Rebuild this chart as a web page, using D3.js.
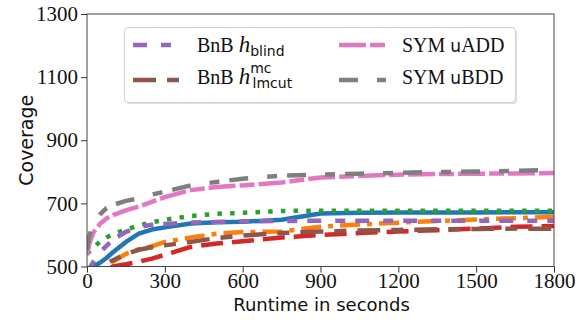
<!DOCTYPE html>
<html><head><meta charset="utf-8">
<script src="https://cdn.jsdelivr.net/npm/d3@7"></script>
<style>body{margin:0;background:#fff}</style>
</head><body><svg id="c" width="582" height="320"></svg>
<script>
// ---- data ----
const times   = [0, 10, 25, 50, 75, 100, 150, 200, 250, 300, 400, 500, 600, 750, 900, 1050, 1200, 1350, 1500, 1650, 1800];
const blueV   = [460, 478, 500, 512, 527, 545, 578, 604, 617, 624, 636, 640, 642, 648, 668, 670, 671, 671, 671, 672, 672];
const orangeV = [420, 440, 465, 480, 500, 515, 540, 555, 564, 578, 592, 604, 609, 611, 626, 633, 639, 644, 649, 653, 658];
const greenV  = [540, 548, 560, 579, 592, 602, 617, 630, 640, 648, 660, 667, 670, 676, 677, 677, 677, 677, 677, 677, 677];
const redV    = [440, 455, 470, 480, 490, 500, 507, 515, 525, 537, 562, 573, 580, 592, 600, 606, 611, 615, 620, 626, 628];
const purpleV = [480, 495, 515, 545, 565, 585, 610, 625, 632, 635, 639, 641, 643, 644, 645, 645, 645, 645, 645, 645, 645];
const brownV  = [440, 455, 470, 500, 510, 520, 540, 553, 561, 567, 578, 590, 598, 606, 611, 614, 616, 618, 619, 620, 620];
const pinkV   = [536, 575, 608, 635, 652, 663, 678, 690, 705, 720, 742, 752, 757, 766, 782, 787, 791, 793, 794, 795, 796];
const grayV   = [552, 600, 635, 665, 685, 695, 708, 716, 728, 737, 757, 768, 778, 788, 791, 794, 797, 799, 801, 803, 806];
const xTicks  = [0, 300, 600, 900, 1200, 1500, 1800];
const yTicks  = [500, 700, 900, 1100, 1300];
const xDomain = [0, 1800];
const yDomain = [500, 1300];

// ---- styles ----
const series = [
  {v: blueV,   color: "#1f77b4", dash: null},
  {v: orangeV, color: "#ff7f0e", dash: "20,7,5,7"},
  {v: greenV,  color: "#2ca02c", dash: "4.5,8.2"},
  {v: redV,    color: "#d62728", dash: "22,9"},
  {v: purpleV, color: "#9467bd", dash: "14,14,10,10"},
  {v: brownV,  color: "#8c564b", dash: "23,11,12,11"},
  {v: pinkV,   color: "#e377c2", dash: "27,4,15,4"},
  {v: grayV,   color: "#7f7f7f", dash: "19,19,10,10"}
];

const svg = d3.select("#c");
const L = 87, R = 554, T = 14, B = 266.5;
const x = d3.scaleLinear().domain(xDomain).range([L, R]);
const y = d3.scaleLinear().domain(yDomain).range([B, T]);

svg.append("defs").append("clipPath").attr("id","clip")
  .append("rect").attr("x", L).attr("y", T).attr("width", R-L).attr("height", B-T);

const serif = "'Liberation Serif', 'DejaVu Serif', serif";
const sans = "'DejaVu Sans', sans-serif";

// lines
const line = d3.line().x((d,i)=>x(times[i])).y(d=>y(d));
const g = svg.append("g").attr("clip-path","url(#clip)");
series.forEach(s => {
  g.append("path").attr("d", line(s.v))
    .attr("fill","none").attr("stroke", s.color).attr("stroke-width", 4.5)
    .attr("stroke-dasharray", s.dash).attr("stroke-linejoin","round");
});

// axes
const xa = svg.append("g").attr("transform",`translate(0,${B})`)
  .call(d3.axisBottom(x).tickValues(xTicks).tickSize(6).tickSizeOuter(0).tickFormat(d3.format("d")));
const ya = svg.append("g").attr("transform",`translate(${L},0)`)
  .call(d3.axisLeft(y).tickValues(yTicks).tickSize(6).tickSizeOuter(0).tickFormat(d3.format("d")));
[xa, ya].forEach(a => {
  a.select(".domain").remove();
  a.selectAll("line").attr("stroke","#333");
  a.selectAll("text").attr("font-family", serif).attr("font-size", 21).attr("fill","#111");
});
xa.selectAll("text").attr("y", 21.5).attr("dy", null);
ya.selectAll("text").attr("x", -9);

// frame
svg.append("rect").attr("x", L).attr("y", T).attr("width", R-L).attr("height", B-T)
  .attr("fill","none").attr("stroke","#444").attr("stroke-width",1);

// axis labels
svg.append("text").attr("x", (L+R)/2 + 1).attr("y", 311).attr("text-anchor","middle")
  .attr("font-family", sans).attr("font-size", 18).attr("fill","#111").text("Runtime in seconds");
svg.append("text").attr("transform",`translate(33,${(T+B)/2}) rotate(-90)`).attr("text-anchor","middle")
  .attr("font-family", sans).attr("font-size", 19).attr("fill","#111").text("Coverage");

// legend
const lg = svg.append("g");
lg.append("rect").attr("x", 126).attr("y", 29).attr("width", 391).attr("height", 75).attr("rx", 4)
  .attr("fill", "#000").attr("opacity", 0.12);
lg.append("rect").attr("x", 124.5).attr("y", 27.5).attr("width", 391).attr("height", 75).attr("rx", 4)
  .attr("fill", "#fff").attr("stroke", "#d0d0d0").attr("stroke-width", 1);

const items = [
  {s: series[4], hx: 133, hy: 45, tx: 197, ty: 52, kind: "blind"},
  {s: series[5], hx: 133, hy: 80, tx: 197, ty: 84, kind: "lmcut"},
  {s: series[6], hx: 339, hy: 45, tx: 402, ty: 52, kind: "uADD"},
  {s: series[7], hx: 339, hy: 80, tx: 402, ty: 84, kind: "uBDD"}
];
items.forEach(it => {
  lg.append("line").attr("x1", it.hx).attr("x2", it.hx+47).attr("y1", it.hy).attr("y2", it.hy)
    .attr("stroke", it.s.color).attr("stroke-width", 4.5).attr("stroke-dasharray", it.s.dash);
  const t = lg.append("text").attr("x", it.tx).attr("y", it.ty).attr("fill","#111")
    .attr("font-family", serif).attr("font-size", 20);
  if (it.kind === "blind" || it.kind === "lmcut") {
    t.append("tspan").text("BnB ");
    t.append("tspan").attr("font-style","italic").attr("font-size", 23).text("h");
    if (it.kind === "blind") {
      t.append("tspan").attr("font-family", sans).attr("font-size", 14).attr("dy", 4).text("blind");
    } else {
      t.append("tspan").attr("font-family", sans).attr("font-size", 14).attr("dy", -11).text("mc");
      t.append("tspan").attr("font-family", sans).attr("font-size", 14).attr("dx", -19).attr("dy", 15).text("lmcut");
    }
  } else {
    t.append("tspan").text("SYM ");
    t.append("tspan").attr("font-family", sans).attr("font-size", 17).text("u");
    t.append("tspan").text(it.kind === "uADD" ? "ADD" : "BDD");
  }
});
</script></body></html>
